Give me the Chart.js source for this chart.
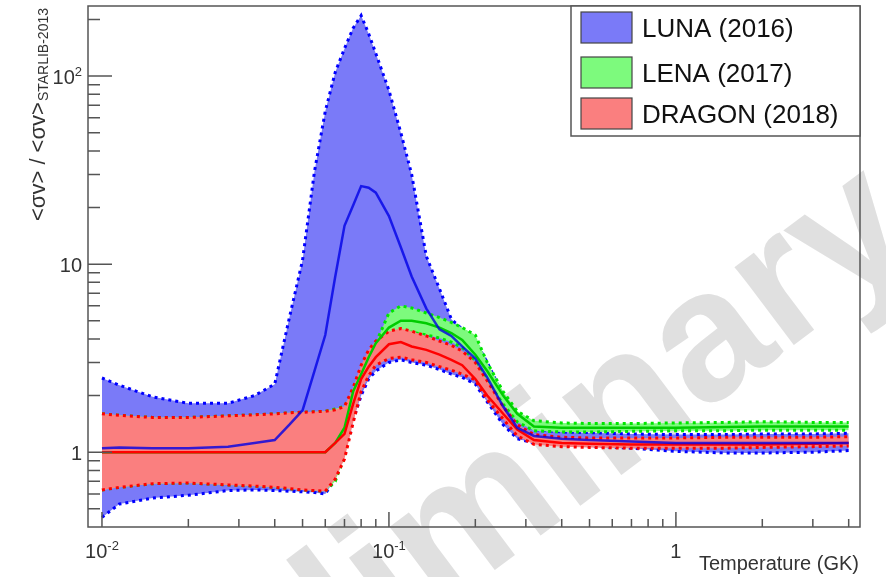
<!DOCTYPE html>
<html lang="en">
<head>
<meta charset="UTF-8">
<title>Rate ratio vs STARLIB-2013</title>
<script src="https://cdn.jsdelivr.net/npm/chart.js"></script>
<style>
  html, body { margin: 0; padding: 0; background: #fff; }
</style>
</head>
<body>
<canvas id="myChart" width="886" height="577"></canvas>
<script>
// temperature grid (GK)
const T = [0.01, 0.0115, 0.015, 0.02, 0.0275, 0.034, 0.04, 0.045, 0.05, 0.055,
           0.06, 0.065, 0.07, 0.075, 0.08, 0.085, 0.09, 0.1, 0.11, 0.12,
           0.135, 0.15, 0.165, 0.18, 0.2, 0.22, 0.25, 0.28, 0.32, 0.4,
           0.5, 0.7, 1, 1.5, 2, 3, 4];

// LUNA (2016)
const lunaHi  = [2.48, 2.27, 1.97, 1.82, 1.82, 2.0, 2.3, 5.2, 10.5, 31,
                 65, 105, 140, 180, 210, 168, 132, 84, 50, 30,
                 11, 7.4, 5.1, 4.5, 3.9, 3.0, 2.0, 1.5, 1.32, 1.28,
                 1.27, 1.25, 1.24, 1.24, 1.25, 1.25, 1.26];
const lunaMid = [1.05, 1.06, 1.05, 1.05, 1.07, 1.12, 1.16, 1.4, 1.67, 2.7,
                 4.2, 8.6, 16, 20.5, 26, 25.5, 24, 18, 12.3, 8.6,
                 5.8, 4.5, 4.15, 3.65, 3.15, 2.5, 1.75, 1.35, 1.22, 1.18,
                 1.16, 1.14, 1.12, 1.12, 1.12, 1.12, 1.12];
const lunaLo  = [0.45, 0.53, 0.57, 0.59, 0.625, 0.63, 0.625, 0.62, 0.615, 0.61,
                 0.6, 0.72, 1.0, 1.48, 2.0, 2.45, 2.7, 3.0, 3.1, 3.0,
                 2.9, 2.75, 2.6, 2.5, 2.3, 1.85, 1.4, 1.18, 1.12, 1.1,
                 1.08, 1.05, 1.01, 0.99, 0.99, 1.0, 1.02];

// LENA (2017)
const lenaHi  = [1.6, 1.57, 1.53, 1.53, 1.56, 1.58, 1.6, 1.62, 1.63, 1.64,
                 1.65, 1.7, 1.75, 2.1, 2.45, 2.9, 3.8, 5.5, 6.0, 5.85,
                 5.5, 5.2, 4.9, 4.6, 4.2, 3.0, 2.1, 1.65, 1.47, 1.43,
                 1.42, 1.42, 1.43, 1.44, 1.45, 1.44, 1.44];
const lenaMid = [1.0, 1.0, 1.0, 1.0, 1.0, 1.0, 1.0, 1.0, 1.0, 1.0,
                 1.0, 1.12, 1.35, 2.1, 2.6, 3.2, 3.8, 4.6, 5.0, 5.0,
                 4.85, 4.6, 4.3, 3.95, 3.3, 2.7, 2.0, 1.6, 1.37, 1.35,
                 1.35, 1.35, 1.35, 1.36, 1.37, 1.37, 1.37];
const lenaLo  = [0.63, 0.65, 0.68, 0.685, 0.67, 0.66, 0.65, 0.64, 0.63, 0.625,
                 0.62, 0.7, 0.95, 1.6, 2.3, 2.9, 3.3, 3.9, 4.3, 4.35,
                 4.2, 4.05, 3.85, 3.6, 3.05, 2.4, 1.8, 1.45, 1.3, 1.28,
                 1.28, 1.29, 1.3, 1.3, 1.31, 1.31, 1.31];

// DRAGON (2018)
const dragonHi  = [1.6, 1.57, 1.53, 1.53, 1.56, 1.58, 1.6, 1.62, 1.63, 1.64,
                   1.65, 1.68, 1.75, 2.2, 2.9, 3.5, 3.9, 4.4, 4.55, 4.4,
                   4.15, 3.9, 3.7, 3.45, 3.0, 2.4, 1.75, 1.4, 1.24, 1.2,
                   1.19, 1.19, 1.19, 1.2, 1.2, 1.2, 1.21];
const dragonMid = [1.0, 1.0, 1.0, 1.0, 1.0, 1.0, 1.0, 1.0, 1.0, 1.0,
                   1.0, 1.12, 1.25, 1.8, 2.45, 2.85, 3.2, 3.75, 3.85, 3.65,
                   3.5, 3.3, 3.1, 2.9, 2.45, 2.0, 1.6, 1.32, 1.16, 1.12,
                   1.11, 1.1, 1.1, 1.1, 1.1, 1.11, 1.12];
const dragonLo  = [0.63, 0.65, 0.68, 0.685, 0.67, 0.66, 0.65, 0.64, 0.63, 0.625,
                   0.62, 0.72, 0.92, 1.43, 2.1, 2.55, 2.9, 3.15, 3.2, 3.1,
                   3.0, 2.85, 2.73, 2.6, 2.42, 1.9, 1.5, 1.22, 1.1, 1.07,
                   1.06, 1.05, 1.05, 1.05, 1.06, 1.07, 1.08];

// axes
const xMajor = [0.01, 0.1, 1];
const xMinor = [0.02, 0.03, 0.04, 0.05, 0.06, 0.07, 0.08, 0.09,
                0.2, 0.3, 0.4, 0.5, 0.6, 0.7, 0.8, 0.9, 2, 3, 4];
const xTickLabels = [['10', '-2'], ['10', '-1'], ['1', '']];
const yMajor = [1, 10, 100];
const yMinor = [0.5, 0.6, 0.7, 0.8, 0.9, 2, 3, 4, 5, 6, 7, 8, 9,
                20, 30, 40, 50, 60, 70, 80, 90, 200];
const yTickLabels = [['1', ''], ['10', ''], ['10', '2']];

const legendLabels = ['LUNA (2016)', 'LENA (2017)', 'DRAGON (2018)'];
const watermark = 'Preliminary';

const FONT = '"Liberation Sans", Arial, Helvetica, sans-serif';
const fillBlue = '#7a7af8', fillGreen = '#7dfa7d', fillRed = '#fa7f7f';
const legendFills = [fillBlue, fillGreen, fillRed];

const pts = arr => T.map((t, i) => ({ x: t, y: arr[i] }));

function edge(arr, color, order, fillTarget, fillColor) {
    return {
        data: pts(arr),
        borderColor: color,
        borderWidth: 3,
        borderDash: [3, 4],
        pointRadius: 0,
        tension: 0,
        order: order,
        fill: fillTarget === undefined ? false : fillTarget,
        backgroundColor: fillColor || 'transparent'
    };
}
function centre(arr, color, order) {
    return {
        data: pts(arr),
        borderColor: color,
        borderWidth: 2.5,
        pointRadius: 0,
        tension: 0,
        order: order,
        fill: false
    };
}

function drawPowLabel(ctx, base, exp, x, y, align) {
    ctx.font = '20px ' + FONT;
    const wb = ctx.measureText(base).width;
    ctx.font = '13px ' + FONT;
    const we = exp ? ctx.measureText(exp).width : 0;
    const total = wb + we;
    let x0 = align === 'right' ? x - total : x - total / 2;
    ctx.textAlign = 'left';
    ctx.textBaseline = 'alphabetic';
    ctx.font = '20px ' + FONT;
    ctx.fillText(base, x0, y);
    if (exp) {
        ctx.font = '13px ' + FONT;
        ctx.fillText(exp, x0 + wb, y - 8);
    }
}

const decor = {
    id: 'decor',
    beforeDraw(chart) {
        const ctx = chart.ctx;
        ctx.save();
        ctx.fillStyle = '#ffffff';
        ctx.fillRect(0, 0, chart.width, chart.height);
        // watermark
        ctx.translate(490, 510);
        ctx.rotate(-37 * Math.PI / 180);
        ctx.font = 'bold 185px ' + FONT;
        ctx.fillStyle = '#e0e0e0';
        ctx.textAlign = 'center';
        ctx.textBaseline = 'middle';
        ctx.fillText(watermark, 0, 0);
        ctx.restore();
    },
    afterDraw(chart) {
        const ctx = chart.ctx;
        const { left, right, top, bottom } = chart.chartArea;
        const xs = chart.scales.x, ys = chart.scales.y;
        ctx.save();
        ctx.strokeStyle = '#555555';
        ctx.lineWidth = 1.5;
        ctx.strokeRect(left, top, right - left, bottom - top);

        // ticks inside the frame
        ctx.beginPath();
        xMajor.forEach(v => { const p = xs.getPixelForValue(v); ctx.moveTo(p, bottom); ctx.lineTo(p, bottom - 15); });
        xMinor.forEach(v => { const p = xs.getPixelForValue(v); ctx.moveTo(p, bottom); ctx.lineTo(p, bottom - 8); });
        yMajor.forEach(v => { const p = ys.getPixelForValue(v); ctx.moveTo(left, p); ctx.lineTo(left + 24, p); });
        yMinor.forEach(v => { const p = ys.getPixelForValue(v); ctx.moveTo(left, p); ctx.lineTo(left + 12, p); });
        ctx.stroke();

        // tick labels
        ctx.fillStyle = '#333333';
        xMajor.forEach((v, i) => {
            drawPowLabel(ctx, xTickLabels[i][0], xTickLabels[i][1], xs.getPixelForValue(v), 558, 'center');
        });
        yMajor.forEach((v, i) => {
            drawPowLabel(ctx, yTickLabels[i][0], yTickLabels[i][1], 82, ys.getPixelForValue(v) + 8, 'right');
        });

        // x title
        ctx.font = '20px ' + FONT;
        ctx.textAlign = 'right';
        ctx.fillText('Temperature (GK)', right - 1, 570);

        // y title, rotated, right-aligned to the top
        ctx.save();
        ctx.translate(0, 8);
        ctx.rotate(-Math.PI / 2);
        ctx.textAlign = 'left';
        ctx.font = '14px ' + FONT;
        const sub = 'STARLIB-2013';
        const subW = ctx.measureText(sub).width;
        ctx.fillText(sub, -subW, 48);
        ctx.font = '22px ' + FONT;
        const main = '<σv> / <σv>';
        const mainW = ctx.measureText(main).width;
        ctx.fillText(main, -subW - mainW - 1, 45);
        ctx.restore();

        // legend
        const lx = 571, ly = top, lw = right - lx, lh = 130;
        ctx.fillStyle = '#ffffff';
        ctx.fillRect(lx, ly, lw, lh);
        ctx.strokeStyle = '#555555';
        ctx.lineWidth = 1.5;
        ctx.strokeRect(lx, ly, lw, lh);
        const rowY = [12, 57, 98];
        legendLabels.forEach((lab, i) => {
            ctx.fillStyle = legendFills[i];
            ctx.fillRect(581, rowY[i], 51, 31);
            ctx.strokeStyle = '#444444';
            ctx.lineWidth = 1.2;
            ctx.strokeRect(581, rowY[i], 51, 31);
            ctx.fillStyle = '#111111';
            ctx.font = '26px ' + FONT;
            ctx.textAlign = 'left';
            ctx.textBaseline = 'alphabetic';
            ctx.fillText(lab, 642, rowY[i] + 25);
        });
        ctx.restore();
    }
};

const ctx = document.getElementById('myChart').getContext('2d');
const myChart = new Chart(ctx, {
    type: 'line',
    data: {
        datasets: [
            edge(lunaLo, '#0000ff', 9, 1, fillBlue),
            edge(lunaHi, '#0000ff', 8),
            edge(lenaLo, '#00e600', 7, 3, fillGreen),
            edge(lenaHi, '#00e600', 6),
            edge(dragonLo, '#ff0000', 5, 5, fillRed),
            edge(dragonHi, '#ff0000', 4),
            centre(lenaMid, '#00cc00', 3),
            centre(dragonMid, '#ff0000', 2),
            centre(lunaMid, 'rgba(0,0,230,0.8)', 1)
        ]
    },
    options: {
        responsive: false,
        animation: false,
        devicePixelRatio: 1,
        layout: { padding: { left: 88, right: 26, top: 6, bottom: 50 } },
        plugins: {
            legend: { display: false },
            tooltip: { enabled: false },
            title: { display: false }
        },
        scales: {
            x: { type: 'logarithmic', min: 0.00894, max: 4.38, display: false },
            y: { type: 'logarithmic', min: 0.40, max: 236, display: false }
        }
    },
    plugins: [decor]
});
</script>
</body>
</html>
